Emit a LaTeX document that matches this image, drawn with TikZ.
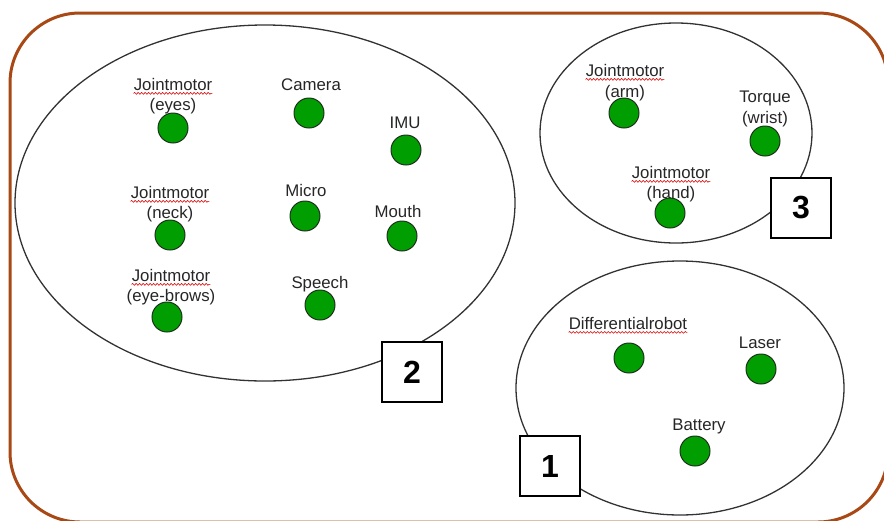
\documentclass[tikz,border=0pt]{standalone}
\usepackage{fontspec}
\setmainfont{Liberation Sans}
\usetikzlibrary{shapes.geometric,decorations.pathmorphing}
\definecolor{frameorange}{RGB}{168,72,20}
\definecolor{devgreen}{RGB}{0,158,0}
\definecolor{devedge}{RGB}{30,50,30}
\definecolor{ellgray}{RGB}{50,50,50}
\tikzset{
  dev/.style={circle,fill=devgreen,draw=devedge,line width=1pt,minimum size=30pt,inner sep=0pt},
  lbl/.style={inner sep=0pt,font=\fontsize{16.8}{19}\selectfont,text=black!85},
  group/.style={ellipse,draw=ellgray,line width=1.3pt,inner sep=0pt},
  numbox/.style={draw=black,line width=2.5pt,fill=white,minimum size=60pt,inner sep=0pt,font=\fontsize{32}{32}\selectfont\bfseries},
  spell/.style={draw=red!85!black,line width=0.6pt,decorate,decoration={snake,amplitude=0.9pt,segment length=3.5pt}}
}
\newcommand{\spellmark}[1]{\draw[spell] ([yshift=-3pt]#1.south west) -- ([yshift=-3pt]#1.south east);}
\begin{document}
\begin{tikzpicture}[x=1pt,y=-1pt]
\useasboundingbox (0,0) rectangle (884,520);
% outer frame
\draw[frameorange,line width=3pt,rounded corners=70pt] (10,13) rectangle (888,522);
% groups
\node[group,minimum width=500pt,minimum height=356pt] (g2) at (265,203) {};
\node[group,minimum width=272pt,minimum height=220pt] (g3) at (676,133) {};
\node[group,minimum width=328pt,minimum height=254pt] (g1) at (680,388) {};
% group 2 devices
\node[dev] (eyes) at (173,128) {};
\node[lbl,anchor=base] (eyesA) at (173,90) {Jointmotor};
\node[lbl,anchor=base] (eyesB) at (173,110) {(eyes)};
\spellmark{eyesA}
\node[dev] (camera) at (309,113) {};
\node[lbl,anchor=base] (cameraA) at (311,90) {Camera};
\node[dev] (imu) at (406,150) {};
\node[lbl,anchor=base] (imuA) at (405,128) {IMU};
\node[dev] (neck) at (170,235) {};
\node[lbl,anchor=base] (neckA) at (170,198) {Jointmotor};
\node[lbl,anchor=base] (neckB) at (170,218) {(neck)};
\spellmark{neckA}
\node[dev] (micro) at (305,216) {};
\node[lbl,anchor=base] (microA) at (306,196) {Micro};
\node[dev] (mouth) at (402,236) {};
\node[lbl,anchor=base] (mouthA) at (398,217) {Mouth};
\node[dev] (brows) at (167,317) {};
\node[lbl,anchor=base] (browsA) at (171,281) {Jointmotor};
\node[lbl,anchor=base] (browsB) at (171,301) {(eye-brows)};
\spellmark{browsA}
\node[dev] (speech) at (320,305) {};
\node[lbl,anchor=base] (speechA) at (320,288) {Speech};
% group 3 devices
\node[dev] (arm) at (624,113) {};
\node[lbl,anchor=base] (armA) at (625,76) {Jointmotor};
\node[lbl,anchor=base] (armB) at (625,97) {(arm)};
\spellmark{armA}
\node[dev] (wrist) at (765,141) {};
\node[lbl,anchor=base] (wristA) at (765,102) {Torque};
\node[lbl,anchor=base] (wristB) at (765,123) {(wrist)};
\node[dev] (hand) at (670,213) {};
\node[lbl,anchor=base] (handA) at (671,178) {Jointmotor};
\node[lbl,anchor=base] (handB) at (671,198) {(hand)};
\spellmark{handA}
% group 1 devices
\node[dev] (diff) at (629,358) {};
\node[lbl,anchor=base] (diffA) at (628,329) {Differentialrobot};
\spellmark{diffA}
\node[dev] (laser) at (761,369) {};
\node[lbl,anchor=base] (laserA) at (760,348) {Laser};
\node[dev] (battery) at (695,451) {};
\node[lbl,anchor=base] (batteryA) at (699,430) {Battery};
% number boxes
\node[numbox] (n2) at (412,372) {2};
\node[numbox] (n3) at (801,208) {3};
\node[numbox] (n1) at (550,466) {1};
\end{tikzpicture}
\end{document}
